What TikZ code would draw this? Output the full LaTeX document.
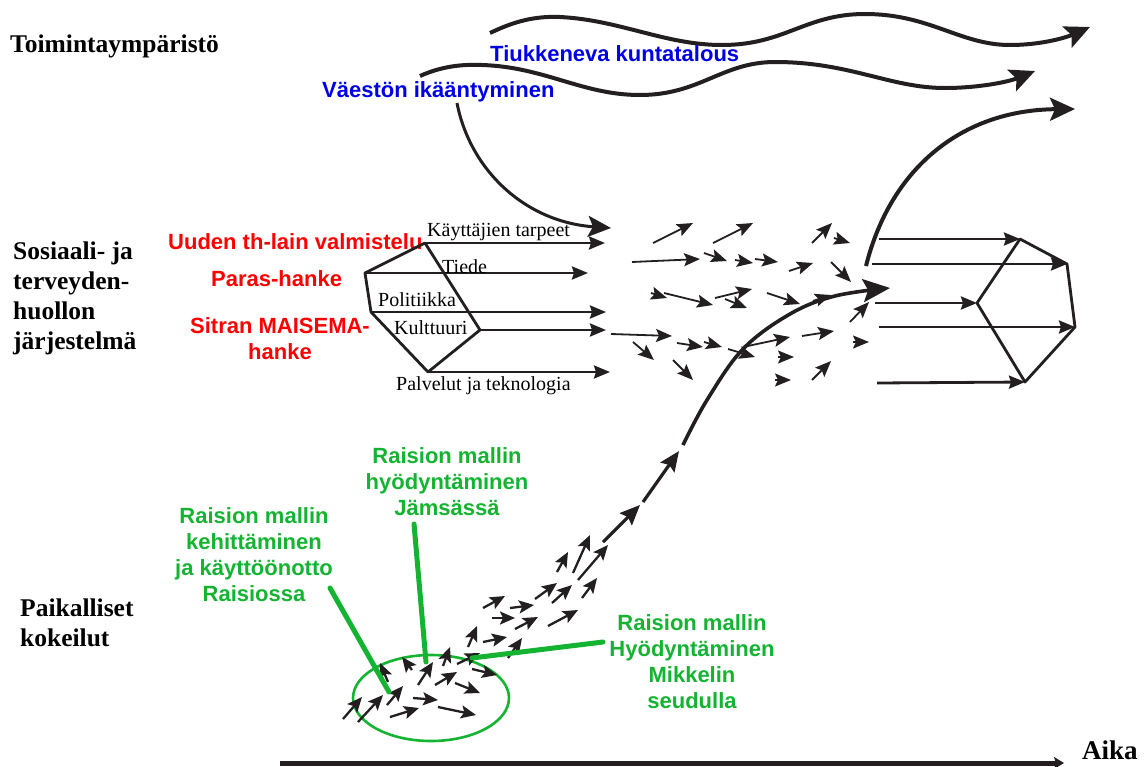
\documentclass[tikz,border=0pt]{standalone}
\usepackage{fontspec}
\setmainfont{Liberation Serif}
\setsansfont{Liberation Sans}
\usetikzlibrary{arrows.meta}
\definecolor{ink}{RGB}{35,31,32}
\definecolor{cblue}{RGB}{0,0,230}
\definecolor{cred}{RGB}{255,0,0}
\definecolor{cgreen}{RGB}{20,180,50}
\begin{document}
\begin{tikzpicture}[x=1pt,y=-1pt,
  heading/.style={font=\bfseries\fontsize{25.5}{30}\selectfont, inner sep=0pt, align=left, anchor=west},
  sanslab/.style={font=\sffamily\bfseries\fontsize{22}{26}\selectfont, inner sep=0pt, align=center},
  factor/.style={font=\fontsize{20}{24}\selectfont, inner sep=0pt, anchor=west},
  wave/.style={draw=ink, line width=4pt, -{Stealth[length=25pt,width=23pt,inset=5pt]}},
  prismedge/.style={draw=ink, line width=2.8pt, line join=round},
  prismarrow/.style={draw=ink, line width=2.8pt, -{Stealth[length=16pt,width=13pt,inset=2pt]}},
  drift/.style={draw=ink, line width=1.8pt, -{Stealth[length=16pt,width=13pt,inset=3pt]}},
  seed/.style={draw=ink, line width=2.3pt, -{Stealth[length=15pt,width=13pt,inset=3pt]}},
  chainarrow/.style={draw=ink, line width=3.2pt, -{Stealth[length=20pt,width=17pt,inset=3pt]}},
  pointer/.style={draw=cgreen, line width=5pt, line cap=round}]
\useasboundingbox (0,0) rectangle (1146,766);

% ---------------- row headings ----------------
\node[heading] (env) at (10,46) {Toimintaympäristö};
\node[heading] (sys) at (13,298) {Sosiaali- ja\\terveyden-\\huollon\\järjestelmä};
\node[heading] (loc) at (20,623) {Paikalliset\\kokeilut};
\node[heading, font=\bfseries\fontsize{27}{30}\selectfont] (time) at (1082,750) {Aika};

% ---------------- environment trends ----------------
\draw[wave] (490,33) .. controls (515,21) and (535,16) .. (560,17)
  .. controls (620,20) and (665,45) .. (722,45)
  .. controls (785,45) and (805,14) .. (865,14)
  .. controls (930,14) and (960,45) .. (1010,45)
  .. controls (1040,45) and (1065,38) .. (1090,27);
\draw[wave] (420,76) .. controls (440,67) and (460,64) .. (482,65)
  .. controls (545,67) and (582,95) .. (640,95)
  .. controls (700,95) and (722,62) .. (775,62)
  .. controls (850,62) and (890,88) .. (945,88)
  .. controls (978,88) and (1008,82) .. (1035,71);
\node[sanslab, text=cblue, anchor=west] (econ) at (490,54) {Tiukkeneva kuntatalous};
\node[sanslab, text=cblue, anchor=west] (aging) at (322,92) {Väestön ikääntyminen};
\draw[draw=ink, line width=3pt, -{Stealth[length=23pt,width=21pt,inset=5pt]}]
  (457,103) .. controls (470,170) and (525,222) .. (611,228);

% ---------------- policy processes ----------------
\node[sanslab, text=cred, anchor=west] (law) at (168,242) {Uuden th-lain valmistelu};
\node[sanslab, text=cred, anchor=west] (paras) at (211,279) {Paras-hanke};
\node[sanslab, text=cred] (sitra) at (280,339) {Sitran MAISEMA-\\hanke};

% ---------------- left prism ----------------
\coordinate (p1) at (425,243);
\coordinate (p2) at (365,273);
\coordinate (p3) at (371,312);
\coordinate (p4) at (428,372);
\coordinate (p5) at (480,330);
\coordinate (e1) at (605,243);
\coordinate (e2) at (588,273);
\coordinate (e3) at (606,312);
\coordinate (e5) at (606,330);
\coordinate (e4) at (610,372);
\draw[prismedge] (p1) -- (p2) -- (p3) -- (p4) -- (p5) -- cycle;
\draw[prismarrow] (p1) -- (e1);
\draw[prismarrow] (p2) -- (e2);
\draw[prismarrow] (p3) -- (e3);
\draw[prismarrow] (p5) -- (e5);
\draw[prismarrow] (p4) -- (e4);
\node[factor] (needs) at (427,232) {Käyttäjien tarpeet};
\node[factor] (science) at (442,267) {Tiede};
\node[factor] (politics) at (378,300) {Politiikka};
\node[factor] (culture) at (394,328) {Kulttuuri};
\node[factor] (services) at (396,386) {Palvelut ja teknologia};

% ---------------- drifting change vectors ----------------
\foreach \ax/\ay/\bx/\by in {
  653/243/693/223, 713/243/753/223, 812/243/832/223,
  632/262/700/259, 704/253/727/261, 735/260/753/263, 755/259/778/262,
  789/271/813/263, 831/262/851/282,
  664/293/713/305, 715/298/752/289, 725/299/747/308, 767/293/800/304,
  813/301/831/295, 850/322/869/302,
  611/334/672/336, 633/342/654/360, 677/343/703/347, 704/342/722/347,
  728/349/755/357, 743/347/790/337, 802/336/834/331,
  673/360/693/380, 812/380/831/361,
  834/238/850/243, 651/293/667/298, 853/342/869/342,
  778/357/794/357, 775/380/791/380}
  \draw[drift] (\ax,\ay) -- (\bx,\by);

% ---------------- right prism ----------------
\coordinate (q1) at (1020,239);
\coordinate (q2) at (1067,264);
\coordinate (q3) at (1075,327);
\coordinate (q4) at (1025,382);
\coordinate (q5) at (977,303);
\coordinate (s1) at (879,239);
\coordinate (s2) at (872,264);
\coordinate (s5) at (875,303);
\coordinate (s3) at (879,327);
\coordinate (s4) at (877,383);
\draw[prismedge] (q1) -- (q2) -- (q3) -- (q4) -- (q5) -- cycle;
\draw[prismarrow] (s1) -- (q1);
\draw[prismarrow] (s2) -- (q2);
\draw[prismarrow] (s5) -- (q5);
\draw[prismarrow] (s3) -- (q3);
\draw[prismarrow] (s4) -- (q4);
\draw[wave] (866,266) .. controls (890,170) and (960,110) .. (1075,109);

% ---------------- local pilots ----------------
\draw[cgreen, line width=2.6pt] (431,698) ellipse [x radius=78, y radius=43];
\foreach \ax/\ay/\bx/\by in {
  343/719/362/697, 358/722/383/695, 387/705/403/686, 388/682/380/663,
  412/670/402/657, 418/685/433/662, 443/666/450/647, 435/685/457/672,
  413/698/438/700, 390/717/419/708, 438/707/476/715, 455/683/480/693,
  472/669/497/675, 457/664/480/653, 468/647/477/626, 483/642/507/637,
  508/658/522/638, 492/618/515/618, 515/629/538/617, 548/626/578/610,
  483/608/505/596, 510/608/534/605, 535/599/557/583, 552/603/572/585,
  582/598/597/578, 557/572/568/552, 573/573/590/535, 578/580/608/545}
  \draw[seed] (\ax,\ay) -- (\bx,\by);

% the path from the pilots up to the system level
\coordinate (c0) at (603,542);
\coordinate (c1) at (640,505);
\coordinate (c2) at (643,502);
\coordinate (c3) at (679,451);
\draw[chainarrow] (c0) -- (c1);
\draw[chainarrow] (c2) -- (c3);
\draw[draw=ink, line width=3.6pt, -{Stealth[length=27pt,width=23pt,inset=5pt]}]
  plot[smooth, tension=0.6] coordinates {(683,445) (707,400) (743,349) (790,314) (835,296) (890,288)};

% ---------------- pilot labels ----------------
\node[sanslab, text=cgreen] (raisio) at (254,555) {Raision mallin\\kehittäminen\\ja käyttöönotto\\Raisiossa};
\node[sanslab, text=cgreen] (jamsa) at (447,482) {Raision mallin\\hyödyntäminen\\Jämsässä};
\node[sanslab, text=cgreen] (mikkeli) at (692,662) {Raision mallin\\Hyödyntäminen\\Mikkelin\\seudulla};
\coordinate (r0) at (330,588);
\coordinate (r1) at (389,692);
\coordinate (j0) at (414,524);
\coordinate (j1) at (426,662);
\coordinate (m0) at (603,642);
\coordinate (m1) at (472,658);
\draw[pointer] (r0) -- (r1);
\draw[pointer] (j0) -- (j1);
\draw[pointer] (m0) -- (m1);

% ---------------- time axis ----------------
\coordinate (t0) at (280,763);
\coordinate (t1) at (1064,763);
\draw[draw=ink, line width=5pt, -{Stealth[length=10pt,width=12pt,inset=2pt]}] (t0) -- (t1);
\end{tikzpicture}
\end{document}
